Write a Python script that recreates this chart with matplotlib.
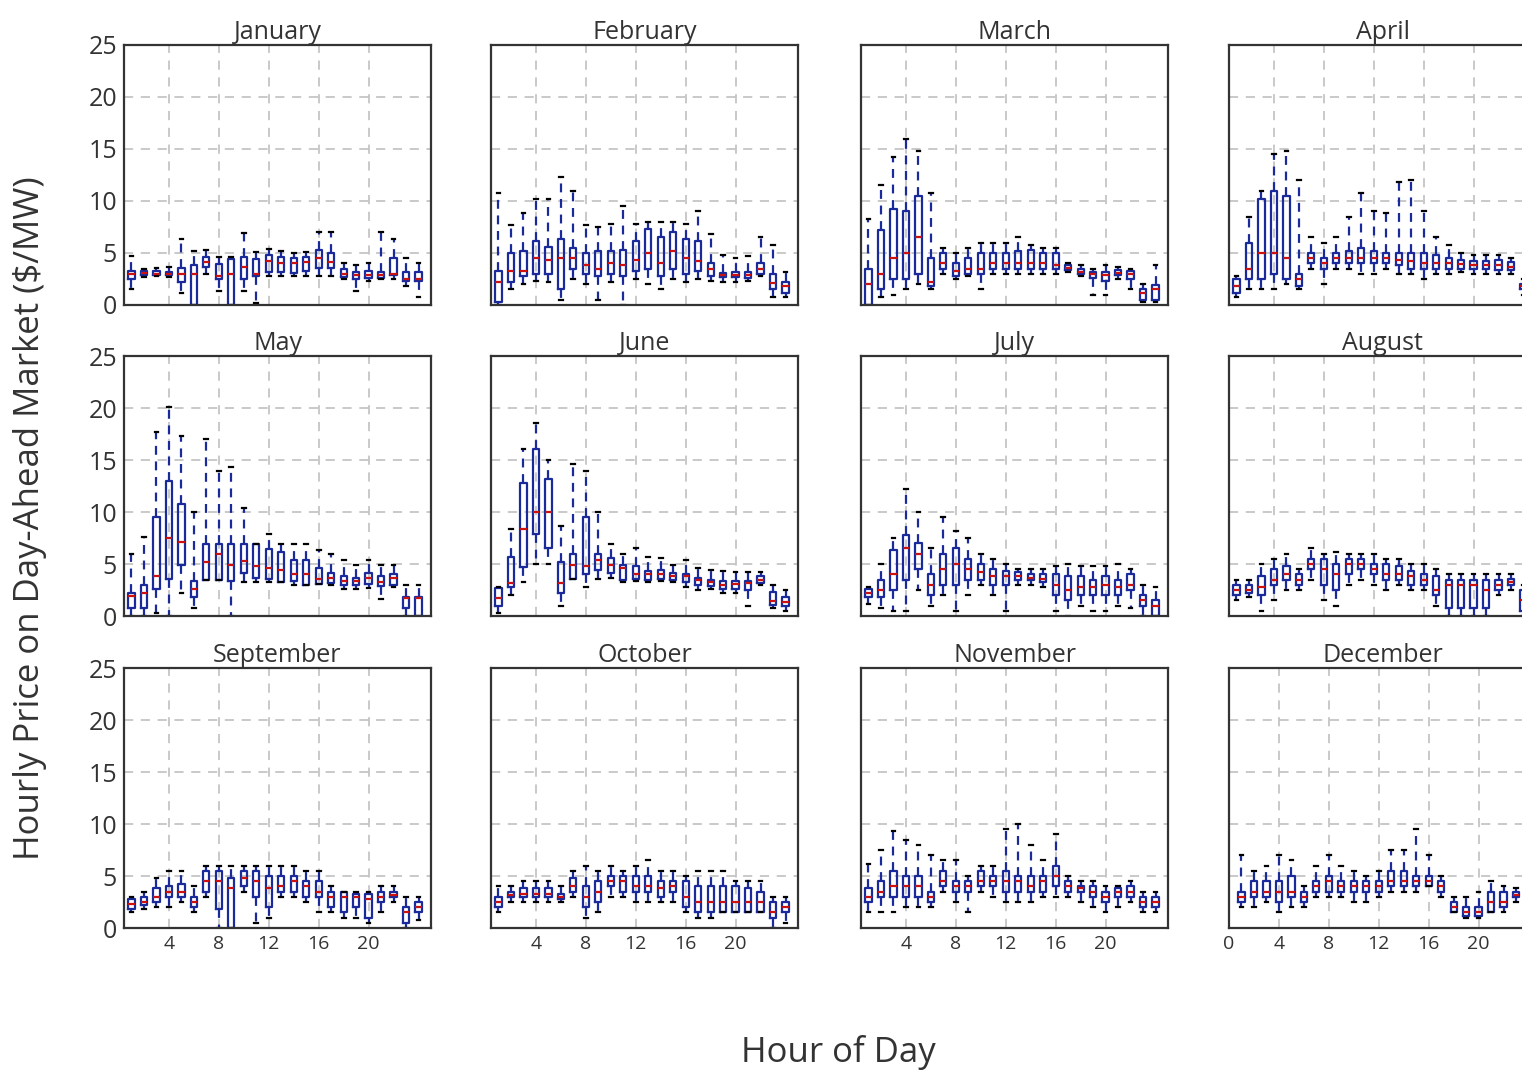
import matplotlib.pyplot as plt

plt.rcParams["font.family"] = ["Open Sans", "DejaVu Sans"]

months = ["January", "February", "March", "April", "May", "June",
          "July", "August", "September", "October", "November", "December"]
hours = list(range(1, 25))

# per hour: whisker low, q1, median, q3, whisker high  ($/MW)
january = [(1.5, 2.5, 3.0, 3.3, 4.7), (2.7, 2.9, 3.1, 3.3, 3.5), (2.8, 2.9, 3.0, 3.3, 3.6), (2.7, 2.9, 3.0, 3.2, 3.7),
           (1.2, 2.2, 3.0, 3.6, 6.3), (0.0, 0.0, 3.0, 3.8, 5.2), (3.0, 3.7, 4.1, 4.6, 5.3), (1.3, 2.5, 2.8, 3.9, 4.6),
           (0.0, 0.0, 3.0, 4.4, 4.6), (1.3, 2.5, 3.7, 4.6, 6.9), (0.2, 2.8, 3.0, 4.4, 5.1), (2.8, 3.2, 4.2, 4.8, 5.4),
           (2.8, 3.2, 4.0, 4.6, 5.2), (2.8, 3.1, 4.0, 4.5, 5.0), (2.8, 3.3, 4.1, 4.6, 5.1), (2.8, 3.6, 4.5, 5.3, 7.0),
           (2.8, 3.6, 4.1, 5.0, 7.0), (2.5, 2.7, 3.0, 3.5, 4.0), (1.3, 2.5, 2.9, 3.2, 3.8), (2.3, 2.6, 2.9, 3.3, 4.0),
           (2.5, 2.6, 2.9, 3.2, 7.0), (2.5, 2.9, 3.0, 4.5, 6.3), (1.8, 2.3, 2.5, 3.2, 4.5), (0.8, 2.3, 2.5, 3.2, 4.0)]
february = [(0.0, 0.3, 2.2, 3.3, 10.8), (1.5, 2.2, 3.3, 5.0, 7.7), (2.0, 2.8, 3.3, 5.2, 8.8), (2.3, 3.0, 4.5, 6.2, 10.2),
            (2.2, 3.0, 4.3, 5.6, 10.2), (0.5, 1.5, 4.5, 6.3, 12.3), (2.5, 3.5, 4.5, 5.5, 11.0), (2.0, 3.0, 3.8, 5.0, 7.7),
            (0.5, 2.8, 3.5, 5.2, 7.5), (2.2, 3.0, 4.0, 5.2, 7.8), (0.0, 2.8, 3.8, 5.3, 9.5), (2.5, 3.3, 4.3, 6.2, 7.8),
            (2.0, 3.5, 5.0, 7.3, 8.0), (1.5, 2.8, 4.0, 6.5, 8.0), (2.5, 3.5, 5.2, 7.0, 8.0), (2.2, 3.0, 4.5, 6.3, 7.8),
            (2.5, 3.3, 4.2, 6.2, 9.0), (2.3, 2.8, 3.5, 4.0, 6.8), (2.2, 2.7, 2.9, 3.1, 4.8), (2.2, 2.7, 2.9, 3.2, 4.5),
            (2.3, 2.6, 2.9, 3.2, 4.7), (2.8, 3.0, 3.5, 4.0, 6.5), (0.8, 1.5, 2.1, 3.0, 5.8), (0.8, 1.2, 1.8, 2.2, 3.2)]
march = [(0.0, 0.0, 2.0, 3.5, 8.3), (0.8, 1.5, 3.0, 7.2, 11.5), (1.0, 2.5, 4.5, 9.2, 14.2), (1.5, 2.5, 5.0, 9.0, 16.0),
         (2.0, 3.0, 6.5, 10.5, 14.8), (1.5, 1.8, 2.2, 4.5, 10.8), (3.0, 3.5, 4.0, 5.0, 5.5), (2.5, 2.8, 3.3, 4.0, 5.0),
         (2.8, 3.0, 3.5, 4.5, 5.5), (1.5, 3.0, 3.5, 5.0, 6.0), (3.0, 3.5, 4.0, 5.0, 6.0), (3.0, 3.5, 4.0, 5.0, 6.0),
         (3.0, 3.5, 4.0, 5.2, 6.5), (3.0, 3.5, 4.0, 5.3, 5.8), (3.0, 3.5, 4.0, 5.0, 5.5), (3.0, 3.5, 3.8, 5.0, 5.5),
         (3.2, 3.4, 3.6, 3.8, 4.0), (2.8, 3.0, 3.2, 3.5, 3.8), (1.0, 2.6, 3.0, 3.2, 3.5), (1.0, 2.3, 2.9, 3.2, 3.8),
         (2.5, 2.9, 3.1, 3.4, 3.7), (1.5, 2.5, 3.0, 3.3, 3.5), (0.3, 0.5, 1.2, 1.5, 2.0), (0.3, 0.5, 1.5, 1.9, 3.8)]
april = [(0.8, 1.2, 1.8, 2.5, 2.8), (1.5, 2.5, 3.5, 6.0, 8.5), (1.5, 2.5, 5.0, 10.2, 11.0), (1.5, 3.0, 5.0, 11.0, 14.5),
         (2.0, 2.5, 4.5, 10.5, 14.8), (1.5, 1.8, 2.5, 3.0, 12.0), (3.5, 4.0, 4.5, 5.0, 6.5), (2.0, 3.5, 4.0, 4.5, 6.0),
         (3.5, 4.0, 4.5, 5.0, 6.5), (3.5, 4.0, 4.5, 5.2, 8.5), (3.0, 4.0, 4.5, 5.5, 10.8), (3.0, 4.0, 4.5, 5.2, 9.0),
         (3.5, 4.0, 4.5, 5.0, 8.8), (3.0, 3.8, 4.3, 5.0, 11.8), (3.0, 3.5, 4.2, 5.0, 12.0), (2.5, 3.5, 4.0, 5.0, 9.0),
         (3.0, 3.5, 4.0, 4.8, 6.5), (3.0, 3.5, 4.0, 4.5, 5.8), (3.2, 3.5, 3.9, 4.3, 5.0), (3.0, 3.5, 3.8, 4.2, 4.8),
         (3.0, 3.5, 3.8, 4.2, 4.8), (3.0, 3.4, 3.8, 4.3, 4.8), (3.0, 3.4, 3.7, 4.1, 4.5), (1.0, 1.5, 1.8, 2.0, 2.5)]
may = [(0.0, 0.8, 1.9, 2.2, 6.0), (0.0, 0.8, 2.2, 3.0, 7.6), (0.3, 2.6, 3.8, 9.5, 17.7), (0.0, 3.6, 7.5, 13.0, 20.1),
       (2.2, 4.9, 7.1, 10.8, 17.3), (0.8, 1.8, 2.6, 3.4, 10.0), (3.5, 3.5, 5.2, 6.9, 17.0), (3.5, 3.5, 6.0, 6.9, 13.9),
       (0.0, 3.4, 4.9, 6.9, 14.3), (3.3, 4.1, 5.3, 6.9, 10.4), (3.3, 3.7, 4.8, 6.9, 6.9), (3.3, 3.6, 4.6, 6.4, 7.9),
       (3.3, 3.3, 4.4, 6.2, 6.9), (3.0, 3.4, 4.0, 5.4, 6.9), (3.0, 3.0, 4.0, 5.4, 6.9), (3.1, 3.1, 3.6, 4.6, 6.3),
       (3.0, 3.2, 3.7, 4.1, 6.0), (2.6, 3.0, 3.4, 3.8, 5.4), (2.6, 3.0, 3.4, 3.7, 4.9), (2.7, 3.1, 3.7, 4.1, 5.4),
       (1.6, 2.9, 3.3, 3.8, 4.9), (2.8, 3.0, 3.7, 4.0, 4.9), (0.0, 0.8, 1.7, 1.8, 3.0), (0.0, 0.0, 1.7, 1.8, 3.0)]
june = [(0.3, 1.0, 1.7, 2.7, 2.8), (2.0, 2.8, 3.2, 5.7, 8.4), (3.3, 4.7, 8.4, 12.8, 16.1), (5.0, 7.9, 10.0, 16.1, 18.6),
        (5.0, 6.5, 10.0, 13.2, 15.0), (1.0, 2.2, 3.2, 5.2, 8.7), (3.6, 3.6, 4.9, 6.0, 14.6), (2.8, 4.0, 4.8, 9.5, 13.9),
        (3.6, 4.4, 5.4, 6.0, 10.0), (3.7, 4.1, 4.9, 5.6, 6.9), (3.3, 3.5, 4.6, 4.9, 6.0), (3.4, 3.6, 4.0, 4.8, 6.5),
        (3.3, 3.5, 4.0, 4.3, 5.7), (3.4, 3.6, 4.0, 4.4, 5.6), (3.3, 3.5, 3.8, 4.1, 4.9), (2.8, 3.3, 3.8, 4.0, 5.4),
        (2.5, 3.0, 3.5, 3.7, 4.6), (2.6, 2.9, 3.3, 3.5, 4.4), (2.2, 2.6, 3.0, 3.4, 4.3), (2.2, 2.6, 3.1, 3.4, 4.2),
        (1.0, 2.5, 3.2, 3.4, 4.2), (3.0, 3.2, 3.5, 3.8, 4.2), (0.8, 1.1, 1.4, 2.3, 3.0), (0.5, 1.0, 1.3, 1.8, 2.5)]
july = [(1.2, 1.8, 2.2, 2.6, 2.8), (0.8, 1.8, 2.5, 3.5, 5.0), (0.5, 2.5, 4.0, 6.3, 7.5), (0.5, 3.5, 6.5, 7.8, 12.2),
        (2.5, 4.5, 6.0, 7.0, 10.0), (1.0, 2.0, 3.0, 4.0, 6.5), (2.0, 3.0, 4.5, 6.0, 9.5), (0.5, 3.0, 5.0, 6.5, 8.2),
        (2.0, 3.5, 4.5, 5.5, 7.5), (3.0, 3.5, 4.2, 5.0, 6.0), (2.0, 3.0, 3.8, 4.5, 5.5), (0.5, 3.0, 3.8, 4.3, 5.0),
        (3.0, 3.5, 3.8, 4.2, 4.5), (3.0, 3.5, 3.7, 4.0, 4.5), (2.8, 3.3, 3.6, 4.0, 4.5), (0.5, 2.0, 3.0, 4.0, 4.8),
        (0.0, 1.5, 2.5, 3.8, 5.0), (1.0, 2.0, 2.8, 3.8, 4.8), (0.5, 2.0, 2.8, 3.5, 4.8), (0.5, 2.0, 3.0, 3.8, 4.8),
        (1.0, 2.0, 2.8, 3.5, 5.0), (0.8, 2.5, 3.0, 4.0, 4.5), (0.0, 1.0, 1.5, 2.0, 3.0), (0.0, 0.0, 1.0, 1.5, 2.8)]
august = [(1.5, 2.0, 2.5, 3.0, 3.5), (1.8, 2.2, 2.5, 3.0, 3.5), (0.5, 2.0, 2.8, 3.8, 5.0), (1.5, 3.0, 3.5, 4.5, 5.5),
          (2.5, 3.5, 4.0, 4.8, 6.0), (2.5, 3.0, 3.5, 4.0, 4.5), (3.5, 4.5, 5.0, 5.5, 6.5), (1.5, 3.0, 4.5, 5.5, 6.0),
          (1.0, 2.5, 4.0, 5.0, 6.2), (3.0, 4.0, 5.0, 5.5, 6.0), (3.5, 4.5, 5.0, 5.5, 6.0), (3.0, 4.0, 4.5, 5.0, 6.0),
          (2.5, 3.5, 4.0, 5.0, 5.5), (3.0, 3.5, 4.0, 4.8, 5.5), (2.5, 3.0, 3.8, 4.3, 5.0), (2.5, 3.0, 3.5, 4.0, 5.0),
          (1.0, 2.0, 2.5, 3.8, 4.5), (0.0, 0.8, 3.0, 3.5, 4.0), (0.0, 0.8, 3.0, 3.5, 4.0), (0.0, 0.8, 3.0, 3.5, 4.0),
          (0.0, 0.8, 2.5, 3.5, 4.0), (2.0, 2.5, 3.0, 3.5, 4.0), (2.5, 3.0, 3.3, 3.6, 4.0), (0.0, 0.5, 1.5, 2.5, 3.0)]
september = [(1.5, 1.8, 2.3, 2.8, 3.0), (1.8, 2.2, 2.5, 3.0, 3.5), (2.0, 2.5, 3.0, 3.8, 4.8), (2.0, 3.0, 3.5, 4.0, 5.5),
             (2.5, 3.0, 3.5, 4.2, 5.5), (1.5, 2.0, 2.5, 3.0, 4.0), (3.0, 3.5, 4.5, 5.5, 6.0), (0.0, 1.8, 4.5, 5.5, 6.0),
             (0.0, 0.0, 3.8, 4.8, 6.0), (3.5, 4.0, 4.8, 5.5, 6.0), (0.5, 3.0, 4.5, 5.5, 6.0), (1.0, 2.0, 3.8, 5.0, 6.0),
             (3.0, 3.5, 4.0, 5.0, 6.0), (3.0, 3.5, 4.5, 5.0, 6.0), (2.5, 3.0, 4.0, 4.5, 5.5), (1.5, 3.0, 3.5, 4.5, 5.5),
             (1.5, 2.0, 3.0, 3.5, 4.0), (1.0, 1.5, 3.0, 3.5, 3.5), (1.0, 2.0, 3.0, 3.3, 3.5), (0.5, 1.0, 2.8, 3.3, 3.5),
             (1.5, 2.5, 3.0, 3.5, 4.0), (2.5, 3.0, 3.2, 3.5, 4.0), (0.0, 0.5, 1.5, 2.0, 3.0), (0.8, 1.5, 2.0, 2.5, 3.0)]
october = [(1.5, 2.0, 2.5, 3.0, 4.0), (2.5, 3.0, 3.2, 3.5, 4.0), (2.5, 3.0, 3.3, 3.8, 4.5), (2.5, 3.0, 3.3, 3.8, 4.5),
           (2.5, 3.0, 3.3, 3.8, 4.5), (2.5, 2.8, 3.0, 3.3, 4.0), (3.0, 3.5, 4.0, 4.8, 5.5), (1.0, 2.0, 3.0, 4.0, 6.0),
           (1.5, 2.5, 3.5, 4.5, 5.5), (3.0, 4.0, 4.5, 5.0, 6.0), (3.0, 3.5, 4.5, 5.0, 5.5), (2.5, 3.5, 4.0, 5.0, 6.0),
           (2.5, 3.5, 4.0, 5.0, 6.5), (2.5, 3.0, 3.8, 4.5, 5.5), (2.5, 3.5, 4.0, 4.5, 5.5), (1.5, 2.0, 3.0, 4.5, 5.0),
           (1.0, 1.5, 2.5, 4.0, 5.5), (1.0, 1.5, 2.5, 4.0, 5.5), (1.5, 1.5, 2.5, 4.0, 5.5), (1.5, 1.5, 2.5, 4.0, 4.5),
           (1.5, 1.5, 2.5, 3.8, 4.5), (1.5, 1.5, 2.5, 3.5, 4.5), (0.0, 1.0, 1.5, 2.5, 3.0), (0.5, 1.5, 2.0, 2.5, 3.0)]
november = [(1.5, 2.5, 3.0, 3.8, 6.2), (1.5, 3.0, 3.5, 4.5, 7.5), (1.5, 3.0, 4.0, 5.5, 9.3), (2.0, 3.0, 4.0, 5.0, 8.5),
            (2.0, 3.0, 4.0, 5.0, 8.0), (2.0, 2.5, 3.0, 3.5, 7.0), (3.5, 4.0, 4.5, 5.5, 6.5), (2.5, 3.5, 4.0, 4.5, 6.5),
            (1.5, 3.5, 4.0, 4.5, 5.0), (3.5, 4.0, 4.5, 5.5, 6.0), (3.0, 4.0, 4.5, 5.0, 6.0), (2.5, 3.5, 4.5, 5.5, 9.5),
            (2.5, 3.5, 4.5, 5.0, 10.0), (2.5, 3.5, 4.0, 5.0, 8.0), (3.0, 3.5, 4.5, 5.0, 6.5), (3.0, 4.0, 5.0, 6.0, 9.0),
            (3.0, 3.5, 4.0, 4.5, 5.0), (2.5, 3.5, 3.8, 4.0, 4.5), (2.0, 3.0, 3.5, 4.0, 4.5), (1.5, 2.5, 3.0, 3.5, 4.0),
            (2.0, 3.0, 3.5, 3.8, 4.0), (2.5, 3.0, 3.5, 4.0, 4.5), (1.5, 2.0, 2.5, 3.0, 3.5), (1.5, 2.0, 2.5, 3.0, 3.5)]
december = [(2.0, 2.5, 3.0, 3.5, 7.0), (2.0, 3.0, 3.5, 4.5, 5.5), (2.5, 3.0, 3.5, 4.5, 6.0), (1.5, 2.5, 3.5, 4.5, 7.0),
            (2.0, 3.0, 3.5, 5.0, 6.5), (2.0, 2.5, 3.0, 3.5, 4.0), (3.0, 3.5, 4.0, 4.5, 6.0), (3.0, 3.5, 4.5, 5.0, 7.0),
            (3.0, 3.5, 4.0, 4.5, 6.0), (2.5, 3.5, 4.0, 4.5, 5.5), (2.5, 3.5, 4.0, 4.5, 5.0), (3.0, 3.5, 4.0, 4.5, 5.5),
            (3.5, 4.0, 4.5, 5.5, 7.5), (3.5, 4.0, 4.5, 5.5, 7.5), (3.5, 4.0, 4.5, 5.0, 9.5), (4.0, 4.0, 4.5, 5.0, 7.0),
            (3.0, 3.5, 4.0, 4.5, 5.0), (1.5, 1.5, 2.0, 2.5, 3.0), (1.0, 1.2, 1.5, 2.0, 3.0), (1.0, 1.2, 1.5, 2.0, 3.5),
            (1.5, 1.5, 2.5, 3.5, 4.5), (1.5, 2.0, 2.5, 3.5, 4.0), (2.5, 3.0, 3.2, 3.5, 3.8), (1.5, 1.5, 2.0, 2.5, 3.0)]

monthly = [january, february, march, april, may, june,
           july, august, september, october, november, december]

box_color = "#1a2a9a"
W, H = 1522, 1072
col_left = [124, 491, 861, 1229]
row_top = [45, 356, 668]
ax_w, ax_h = 307, 260

fig = plt.figure(figsize=(W / 100, H / 100), dpi=100)

for i, (name, rows) in enumerate(zip(months, monthly)):
    r, c = divmod(i, 4)
    ax = fig.add_axes([col_left[c] / W, 1 - (row_top[r] + ax_h) / H, ax_w / W, ax_h / H])
    stats = [dict(whislo=lo, q1=q1, med=med, q3=q3, whishi=hi, fliers=[])
             for lo, q1, med, q3, hi in rows]
    ax.bxp(stats, positions=hours, widths=0.5, capwidths=0.3, showfliers=False,
           manage_ticks=False,
           boxprops=dict(color=box_color, linewidth=1.6),
           whiskerprops=dict(color=box_color, linewidth=1.6, linestyle=(0, (4, 3))),
           capprops=dict(color="black", linewidth=1.6),
           medianprops=dict(color="#cc1111", linewidth=1.6))
    ax.set_ylim(0, 25)
    ax.set_xlim(0 if i == 11 else 0.4, 25 if i < 11 else 24.6)
    ax.set_yticks(range(0, 26, 5))
    ax.set_xticks([0, 4, 8, 12, 16, 20] if i == 11 else [4, 8, 12, 16, 20])
    ax.grid(True, color="#bbbbbb", linestyle=(0, (6, 5)), linewidth=1.1)
    ax.set_axisbelow(True)
    ax.tick_params(length=0, colors="#333333")
    ax.tick_params(axis="y", labelsize=18, pad=5)
    ax.tick_params(axis="x", labelsize=14, pad=5)
    if c != 0:
        ax.set_yticklabels([])
    if r != 2:
        ax.set_xticklabels([])
    for sp in ax.spines.values():
        sp.set_linewidth(1.6)
        sp.set_color("#333333")
    ax.set_title(name, fontsize=18, color="#333333", pad=0)

fig.text(30 / W, 1 - 518 / H, "Hourly Price on Day-Ahead Market ($/MW)", rotation=90,
         fontsize=25, color="#333333", ha="center", va="center")
fig.text(838 / W, 1 - 1052 / H, "Hour of Day", fontsize=25, color="#333333",
         ha="center", va="center")

fig.savefig("out.png", dpi=100)
